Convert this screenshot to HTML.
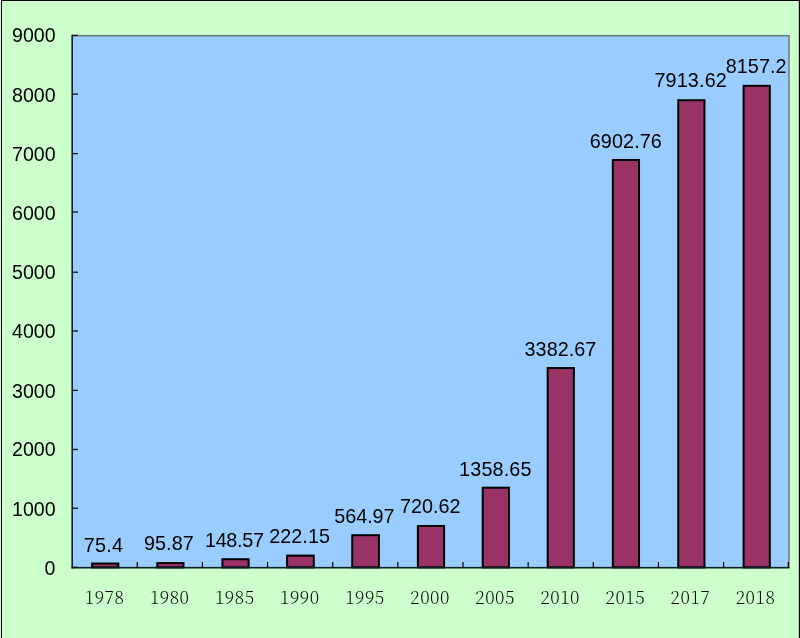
<!DOCTYPE html>
<html><head><meta charset="utf-8"><title>chart</title>
<style>
html,body{margin:0;padding:0;background:#ccffcc;}
body{width:800px;height:638px;overflow:hidden;position:relative;}
svg{position:absolute;left:0;top:0;display:block}
.a{font-family:"Liberation Sans",sans-serif;font-size:19.6px;fill:#000}
.d{font-family:"Liberation Sans",sans-serif;font-size:19.8px;fill:#000;letter-spacing:0.1px}
.x{font-family:"Noto Serif CJK SC","Liberation Serif",serif;font-size:17.6px;fill:#000;font-weight:200;letter-spacing:0.5px}
</style></head><body>
<svg width="800" height="638" viewBox="0 0 800 638">
<rect x="0" y="0" width="800" height="638" fill="#ccffcc"/>
<rect x="0.93" y="0" width="799.07" height="1.05" fill="#000"/>
<rect x="0" y="0" width="1" height="638" fill="#f2fff2"/>
<rect x="0.93" y="0" width="1.12" height="638" fill="#000"/>
<rect x="2.05" y="1" width="0.9" height="637" fill="#fff" fill-opacity="0.45"/>
<rect x="797.8" y="1" width="0.9" height="637" fill="#fff" fill-opacity="0.45"/>
<rect x="2.05" y="1.05" width="796.6" height="0.9" fill="#fff" fill-opacity="0.5"/>
<rect x="798.8" y="0" width="1.2" height="638" fill="#000"/>
<rect x="72.0" y="35.0" width="717.0" height="533.0" fill="#99ccff"/>
<rect x="72.0" y="34.9" width="717.6" height="1.6" fill="#707a78"/>
<rect x="788.2" y="35.0" width="1.6" height="533.0" fill="#747e7c"/>
<rect x="92.12" y="563.54" width="26.20" height="3.86" fill="#993366" stroke="#000" stroke-width="2"/>
<rect x="157.28" y="563.08" width="26.20" height="4.32" fill="#993366" stroke="#000" stroke-width="2"/>
<rect x="222.43" y="559.22" width="26.20" height="8.18" fill="#993366" stroke="#000" stroke-width="2"/>
<rect x="287.08" y="555.62" width="26.70" height="11.78" fill="#993366" stroke="#000" stroke-width="2"/>
<rect x="352.23" y="535.20" width="26.70" height="32.20" fill="#993366" stroke="#000" stroke-width="2"/>
<rect x="417.88" y="526.00" width="26.20" height="41.40" fill="#993366" stroke="#000" stroke-width="2"/>
<rect x="482.73" y="487.69" width="26.20" height="79.71" fill="#993366" stroke="#000" stroke-width="2"/>
<rect x="547.67" y="368.05" width="26.20" height="199.35" fill="#993366" stroke="#000" stroke-width="2"/>
<rect x="612.83" y="159.97" width="26.20" height="407.43" fill="#993366" stroke="#000" stroke-width="2"/>
<rect x="678.27" y="100.22" width="26.20" height="467.18" fill="#993366" stroke="#000" stroke-width="2"/>
<rect x="743.62" y="85.82" width="26.20" height="481.58" fill="#993366" stroke="#000" stroke-width="2"/>
<rect x="71.4" y="34.8" width="1.6" height="533.7" fill="#0a2020"/>
<rect x="71.5" y="566.9" width="717.8" height="1.6" fill="#0a2020"/>
<rect x="72.0" y="566.73" width="5.9" height="1.33" fill="#0a1420"/>
<text class="a" x="55.3" y="574.80" text-anchor="end">0</text>
<rect x="72.0" y="507.62" width="5.9" height="1.33" fill="#0a1420"/>
<text class="a" x="55.6" y="515.69" text-anchor="end">1000</text>
<rect x="72.0" y="448.81" width="5.9" height="1.33" fill="#0a1420"/>
<text class="a" x="55.6" y="456.28" text-anchor="end">2000</text>
<rect x="72.0" y="389.70" width="5.9" height="1.33" fill="#0a1420"/>
<text class="a" x="55.6" y="397.77" text-anchor="end">3000</text>
<rect x="72.0" y="330.29" width="5.9" height="1.33" fill="#0a1420"/>
<text class="a" x="55.6" y="338.26" text-anchor="end">4000</text>
<rect x="72.0" y="271.53" width="5.9" height="1.33" fill="#0a1420"/>
<text class="a" x="55.6" y="278.75" text-anchor="end">5000</text>
<rect x="72.0" y="211.37" width="5.9" height="1.33" fill="#0a1420"/>
<text class="a" x="55.6" y="219.74" text-anchor="end">6000</text>
<rect x="72.0" y="152.96" width="5.9" height="1.33" fill="#0a1420"/>
<text class="a" x="55.6" y="161.03" text-anchor="end">7000</text>
<rect x="72.0" y="93.45" width="5.9" height="1.33" fill="#0a1420"/>
<text class="a" x="55.6" y="101.92" text-anchor="end">8000</text>
<rect x="72.0" y="34.74" width="5.9" height="1.33" fill="#0a1420"/>
<text class="a" x="55.6" y="41.51" text-anchor="end">9000</text>
<rect x="136.65" y="562.0" width="1.2" height="5.5" fill="#000"/>
<rect x="201.80" y="562.0" width="1.2" height="5.5" fill="#000"/>
<rect x="266.95" y="562.0" width="1.2" height="5.5" fill="#000"/>
<rect x="332.10" y="562.0" width="1.2" height="5.5" fill="#000"/>
<rect x="397.25" y="562.0" width="1.2" height="5.5" fill="#000"/>
<rect x="462.40" y="562.0" width="1.2" height="5.5" fill="#000"/>
<rect x="527.55" y="562.0" width="1.2" height="5.5" fill="#000"/>
<rect x="592.70" y="562.0" width="1.2" height="5.5" fill="#000"/>
<rect x="657.85" y="562.0" width="1.2" height="5.5" fill="#000"/>
<rect x="723.00" y="562.0" width="1.2" height="5.5" fill="#000"/>
<rect x="787.70" y="562.0" width="1.2" height="5.5" fill="#000"/>
<text class="d" x="103.45" y="551.94" text-anchor="middle" style="letter-spacing:0.2px">75.4</text>
<text class="x" x="104.60" y="604.2" text-anchor="middle">1978</text>
<text class="d" x="168.94" y="550.33" text-anchor="middle" style="letter-spacing:0.1px">95.87</text>
<text class="x" x="169.69" y="604.2" text-anchor="middle">1980</text>
<text class="d" x="234.33" y="547.22" text-anchor="middle" style="letter-spacing:-0.3px">148.57</text>
<text class="x" x="234.78" y="604.2" text-anchor="middle">1985</text>
<text class="d" x="299.62" y="542.87" text-anchor="middle" style="letter-spacing:0.05px">222.15</text>
<text class="x" x="299.87" y="604.2" text-anchor="middle">1990</text>
<text class="d" x="364.41" y="522.60" text-anchor="middle" style="letter-spacing:-0.05px">564.97</text>
<text class="x" x="364.96" y="604.2" text-anchor="middle">1995</text>
<text class="d" x="430.30" y="513.40" text-anchor="middle" style="letter-spacing:0px">720.62</text>
<text class="x" x="430.05" y="604.2" text-anchor="middle">2000</text>
<text class="d" x="495.39" y="475.69" text-anchor="middle" style="letter-spacing:0.15px">1358.65</text>
<text class="x" x="495.14" y="604.2" text-anchor="middle">2005</text>
<text class="d" x="560.48" y="356.05" text-anchor="middle" style="letter-spacing:0.05px">3382.67</text>
<text class="x" x="560.23" y="604.2" text-anchor="middle">2010</text>
<text class="d" x="625.87" y="148.17" text-anchor="middle" style="letter-spacing:0.1px">6902.76</text>
<text class="x" x="625.32" y="604.2" text-anchor="middle">2015</text>
<text class="d" x="690.66" y="86.92" text-anchor="middle" style="letter-spacing:0.15px">7913.62</text>
<text class="x" x="690.41" y="604.2" text-anchor="middle">2017</text>
<text class="d" x="756.15" y="73.32" text-anchor="middle" style="letter-spacing:0.05px">8157.2</text>
<text class="x" x="755.50" y="604.2" text-anchor="middle">2018</text>
</svg>
</body></html>
